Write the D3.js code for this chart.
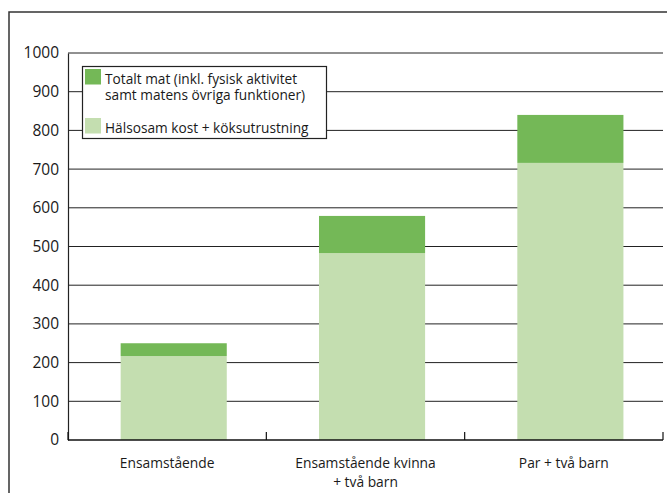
<!DOCTYPE html>
<html>
<head>
<meta charset="utf-8">
<script src="https://cdn.jsdelivr.net/npm/d3@7"></script>
<style>
  body { margin: 0; background: #fff; }
  text { font-family: "Open Sans", sans-serif; fill: #1a1a1a; }
</style>
</head>
<body>
<div id="chart"></div>
<script>
// Data
const categories = ['Ensamstående', 'Ensamstående kvinna\n+ två barn', 'Par + två barn'];
const healthyCost = [217, 483, 716];   // Hälsosam kost + köksutrustning
const foodExtra = [33, 96, 124];       // rest up to Totalt mat
const yTicks = [0, 100, 200, 300, 400, 500, 600, 700, 800, 900, 1000];
const seriesNames = ['Hälsosam kost + köksutrustning', 'Totalt mat (inkl. fysisk aktivitet\nsamt matens övriga funktioner)'];
const seriesColors = ['#c4deb0', '#74b857'];

const W = 667, H = 493;
const margin = { top: 53, right: 4, bottom: 53, left: 68 };

const svg = d3.select('#chart')
  .append('svg')
  .attr('width', W)
  .attr('height', H);

// outer frame (runs off the right and bottom edge)
svg.append('rect')
  .attr('x', 9).attr('y', 12)
  .attr('width', W).attr('height', H)
  .attr('fill', 'none')
  .attr('stroke', '#333')
  .attr('stroke-width', 1.5);

const x = d3.scaleBand()
  .domain(categories)
  .range([margin.left, W - margin.right]);

const y = d3.scaleLinear()
  .domain([0, 1000])
  .range([H - margin.bottom, margin.top]);

// table for the stack
const table = categories.map((c, i) => ({ cat: c, healthy: healthyCost[i], extra: foodExtra[i] }));
const stacked = d3.stack().keys(['healthy', 'extra'])(table);

// gridlines
svg.append('g')
  .selectAll('line')
  .data(yTicks.filter(d => d > 0))
  .join('line')
  .attr('x1', margin.left)
  .attr('x2', W - margin.right)
  .attr('y1', d => y(d))
  .attr('y2', d => y(d))
  .attr('stroke', '#222')
  .attr('stroke-width', 1);

// bars (sit a little right of the band centre, as in the original)
const step = x.step();
const bw = step * 0.535;
const shift = step * 0.033;

svg.append('g')
  .selectAll('g')
  .data(stacked)
  .join('g')
  .attr('fill', (d, i) => seriesColors[i])
  .selectAll('rect')
  .data(d => d)
  .join('rect')
  .attr('x', d => x(d.data.cat) + step / 2 - bw / 2 + shift)
  .attr('width', bw)
  .attr('y', d => y(d[1]))
  .attr('height', d => y(d[0]) - y(d[1]));

// y axis
const yAxis = svg.append('g')
  .attr('transform', `translate(${margin.left},0)`)
  .call(d3.axisLeft(y).tickValues(yTicks).tickFormat(d3.format('d')).tickSize(0).tickPadding(9));
yAxis.select('.domain').attr('stroke', '#222').attr('stroke-width', 1.2);
yAxis.selectAll('text')
  .style('font-family', '"Open Sans", sans-serif')
  .style('font-size', '15.5px')
  .attr('fill', '#1a1a1a');

// x axis: baseline with ticks on the band edges, pointing up
const edges = categories.map(c => x(c)).concat([x(categories[categories.length - 1]) + step]);
const xg = svg.append('g');
xg.append('line')
  .attr('x1', margin.left).attr('x2', W - margin.right)
  .attr('y1', y(0)).attr('y2', y(0))
  .attr('stroke', '#111').attr('stroke-width', 1.5);
xg.selectAll('.tick')
  .data(edges)
  .join('line')
  .attr('class', 'tick')
  .attr('x1', d => d).attr('x2', d => d)
  .attr('y1', y(0)).attr('y2', y(0) - 8)
  .attr('stroke', '#111').attr('stroke-width', 1.2);

// category labels
xg.selectAll('.cat')
  .data(categories)
  .join('text')
  .attr('class', 'cat')
  .attr('text-anchor', 'middle')
  .style('font-size', '13.8px')
  .each(function (d) {
    const t = d3.select(this);
    d.split('\n').forEach((line, k) => {
      t.append('tspan')
        .attr('x', x(d) + step / 2)
        .attr('y', y(0) + 28 + k * 19)
        .text(line);
    });
  });

// legend
const lg = svg.append('g').attr('transform', 'translate(82,66)');
lg.append('rect')
  .attr('x', 0.5).attr('y', 0.5)
  .attr('width', 244).attr('height', 72)
  .attr('fill', '#fff')
  .attr('stroke', '#222')
  .attr('stroke-width', 1.2);

const legendItems = [
  { name: seriesNames[1], color: seriesColors[1], top: 3 },
  { name: seriesNames[0], color: seriesColors[0], top: 52 }
];
legendItems.forEach(it => {
  lg.append('rect')
    .attr('x', 3).attr('y', it.top)
    .attr('width', 16).attr('height', 15.5)
    .attr('fill', it.color);
  const t = lg.append('text').style('font-size', '13.7px');
  it.name.split('\n').forEach((line, k) => {
    t.append('tspan')
      .attr('x', 23)
      .attr('y', it.top + 14.5 + k * 16)
      .text(line);
  });
});
</script>
</body>
</html>
